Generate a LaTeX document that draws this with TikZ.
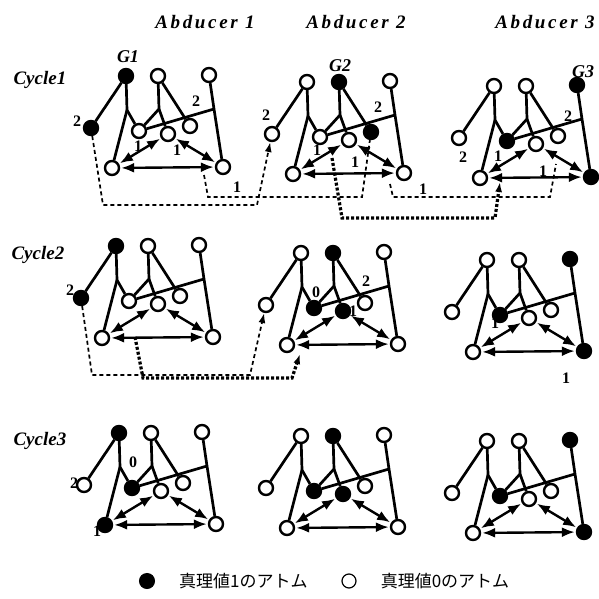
\documentclass[tikz,border=0pt]{standalone}
\usepackage{fontspec}
\setmainfont{Liberation Serif}
\newfontfamily\spacedfont[LetterSpace=14]{Liberation Serif}
\newfontfamily\jfont{Noto Sans CJK JP}
\usetikzlibrary{positioning, arrows.meta}

\tikzset{
  atom/.style={circle, draw, line width=2.4pt, minimum size=14pt, inner sep=0pt, fill=white},
  v t1/.style={}, v t2/.style={}, v t3/.style={},
  v l/.style={}, v a/.style={}, v b/.style={}, v c/.style={},
  v bl/.style={}, v br/.style={},
  holds/.style={v #1/.style={fill=black}},
  link/.style={line width=2.7pt, line join=round},
  dual/.style={line width=2.4pt, {Latex[length=13pt,width=10pt]}-{Latex[length=13pt,width=10pt]}, shorten <=1pt, shorten >=1pt},
  trace/.style={line width=1.7pt, dash pattern=on 4pt off 3pt},
  chain/.style={line width=3.2pt, dash pattern=on 3pt off 2pt},
  tip/.style={-{Latex[length=10pt,width=7pt]}},
  head/.style={font=\fontsize{19}{21}\selectfont\bfseries\itshape},
  goal/.style={font=\fontsize{18}{20}\selectfont\bfseries\itshape, inner sep=0pt},
  num/.style={font=\fontsize{16}{18}\selectfont\bfseries, inner sep=0pt},
  legend/.style={font=\jfont\fontsize{17}{19}\selectfont, inner sep=0pt},
}

% one abducer: #1 prefix, #2 position of the lower left atom, #3 atoms with value 1
\newcommand{\abducer}[3]{%
  \begin{scope}[shift={#2}, holds/.list={#3}]
    \node[atom, v t1] (#1t1) at (14,-92) {};
    \node[atom, v t2] (#1t2) at (46,-92) {};
    \node[atom, v t3] (#1t3) at (97,-93) {};
    \node[atom, v l] (#1l) at (-21,-40) {};
    \node[atom, v a] (#1a) at (27,-37) {};
    \node[atom, v b] (#1b) at (56,-34) {};
    \node[atom, v c] (#1c) at (78,-42) {};
    \node[atom, v bl] (#1bl) at (0,0) {};
    \node[atom, v br] (#1br) at (111,-1) {};
    \coordinate (#1j1) at (15,-58);
    \coordinate (#1j2) at (47,-59);
    \coordinate (#1j3) at (102,-59);
    % rules
    \draw[link] (#1t1) -- (#1l);
    \draw[link] (#1t1) -- (#1j1) -- (#1a);
    \draw[link] (#1j1) -- (#1bl);
    \draw[link] (#1t2) -- (#1j2) -- (#1a);
    \draw[link] (#1j2) -- (#1b);
    \draw[link] (#1t2) -- (#1c);
    \draw[link] (#1t3) -- (#1j3) -- (#1br);
    \draw[link] (#1a) -- (#1j3);
    % inference
    \draw[dual] (#1bl) -- (#1b);
    \draw[dual] (#1bl) -- (#1br);
    \draw[dual] (#1b) -- (#1br);
  \end{scope}}

\begin{document}
\begin{tikzpicture}[x=1pt, y=-1pt]
  \useasboundingbox (0,0) rectangle (599,599);

  % column and row titles
  \node[head, font=\spacedfont\fontsize{19}{21}\selectfont\bfseries\itshape] (h1) at (205,22) {Abducer 1};
  \node[head, font=\spacedfont\fontsize{19}{21}\selectfont\bfseries\itshape] (h2) at (356,22) {Abducer 2};
  \node[head, font=\spacedfont\fontsize{19}{21}\selectfont\bfseries\itshape] (h3) at (545,22) {Abducer 3};
  \node[head, anchor=west] (r1) at (10,80) {Cycle1};
  \node[head, anchor=west] (r2) at (8,255) {Cycle2};
  \node[head, anchor=west] (r3) at (10,441) {Cycle3};

  % cycle 1
  \abducer{p11}{(112,168)}{t1,l}
  \abducer{p12}{(293,174)}{t2,c}
  \abducer{p13}{(480,178)}{t3,a,br}
  \node[goal] (g1) at (128,57) {G1};
  \node[goal] (g2) at (340,66) {G2};
  \node[goal] (g3) at (583,72) {G3};
  \node[num] at (77,121) {2};
  \node[num] at (196,101) {2};
  \node[num] at (138,146) {1};
  \node[num] at (177,150) {1};
  \node[num] at (266,115) {2};
  \node[num] at (378,107) {2};
  \node[num] at (317,150) {1};
  \node[num] at (355,162) {1};
  \node[num] at (463,157) {2};
  \node[num] at (498,156) {1};
  \node[num] at (543,171) {1};
  \node[num] at (568,116) {2};

  \coordinate (d2s) at (204,175);
  \coordinate (d3s) at (332,158);
  \coordinate (d3e) at (500,182);
  \coordinate (d4s) at (390,184);
  \coordinate (d4e) at (556,164);
  \draw[trace, tip] (p11l) -- (103,205) -- (257,205) -- (p12l);
  \draw[trace] (d2s) -- (208,197) -- (362,197) -- (p12c);
  \draw[chain, tip] (d3s) -- (342,218) -- (495,218) -- (d3e);
  \draw[trace] (d4s) -- (393,197) -- (550,197) -- (d4e);
  \node[num] at (237,187) {1};
  \node[num] at (423,189) {1};

  % cycle 2
  \abducer{p21}{(102,338)}{t1,l}
  \abducer{p22}{(287,345)}{t2,a,b}
  \abducer{p23}{(473,352)}{t3,a,br}
  \node[num] at (70,290) {2};
  \node[num] at (316,292) {0};
  \node[num] at (353,311) {1};
  \node[num] at (366,281) {2};
  \node[num] at (495,323) {1};
  \node[num] at (566,378) {1};

  \coordinate (d6s) at (135,337);
  \coordinate (d6e) at (300,354);
  \draw[trace, tip] (p21l) -- (92,375) -- (250,375) -- (p22l);
  \draw[chain, tip] (d6s) -- (143,378) -- (292,378) -- (d6e);

  % cycle 3
  \abducer{p31}{(105,525)}{t1,a,bl}
  \abducer{p32}{(287,528)}{t2,a,b}
  \abducer{p33}{(473,533)}{t3,a,br}
  \node[num] at (133,462) {0};
  \node[num] at (74,483) {2};
  \node[num] at (97,531) {1};

  % legend
  \node[atom, fill=black, minimum size=15pt, line width=1pt] (k1) at (147,581) {};
  \node[legend, right=24pt of k1] (k1t) {真理値1のアトム};
  \node[atom, minimum size=14pt, line width=1.2pt] (k0) at (349,581) {};
  \node[legend, right=24pt of k0] (k0t) {真理値0のアトム};
\end{tikzpicture}
\end{document}
